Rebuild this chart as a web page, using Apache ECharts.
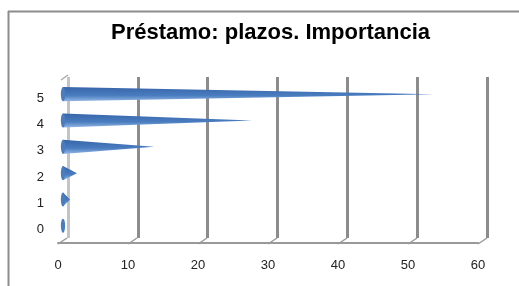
<!DOCTYPE html>
<html>
<head>
<meta charset="utf-8">
<script src="https://cdn.jsdelivr.net/npm/echarts@6/dist/echarts.min.js"></script>
</head>
<body style="margin:0;background:#fff">
<div id="main" style="width:519px;height:286px;"></div>
<script>
var categories = ['0', '1', '2', '3', '4', '5'];
var values = [0, 1, 2, 13, 27, 53];
var ticks = [0, 10, 20, 30, 40, 50, 60];

var chart = echarts.init(document.getElementById('main'));

// cono 3D: base en 0, punta en el valor
function renderCone(params, api) {
    var idx = api.value(1);
    var base = api.coord([0, idx]);
    var tip = api.coord([api.value(0), idx]);
    var h = api.size([0, 1])[1] * 0.27;
    var dx = 5, dy = -4;
    var bx = base[0] + dx, cy = base[1] + dy, tx = tip[0] + dx;
    var fill = new echarts.graphic.LinearGradient(0, 0, 0, 1, [
        {offset: 0, color: '#3865aa'},
        {offset: 0.6, color: '#4a7dc0'},
        {offset: 1, color: '#94b7e4'}
    ]);
    return {
        type: 'group',
        children: [{
            type: 'polygon',
            shape: {points: [[bx, cy - h], [Math.max(tx, bx + 1), cy], [bx, cy + h]]},
            style: {fill: fill}
        }, {
            type: 'circle',
            x: bx, y: cy, scaleX: 0.3,
            shape: {cx: 0, cy: 0, r: h},
            style: {fill: '#4a7cc0'}
        }]
    };
}

// trazos oblicuos entre el eje frontal y la pared del fondo
function renderTick(params, api) {
    var cs = params.coordSys;
    var x = api.coord([api.value(0), 0])[0];
    var y = cs.y + cs.height;
    return {
        type: 'line',
        shape: {x1: x, y1: y + 1, x2: x + 9, y2: y - 5},
        style: {stroke: '#999', lineWidth: 1.5}
    };
}

var option = {
    animation: false,
    title: {
        text: 'Préstamo: plazos. Importancia',
        left: 106,
        top: 17,
        textStyle: {fontFamily: 'Liberation Sans', fontWeight: 'bold', fontSize: 22, color: '#000'}
    },
    graphic: [
        {type: 'line', shape: {x1: 8, y1: 11.5, x2: 519, y2: 11.5}, style: {stroke: '#8c8c8c', lineWidth: 2}},
        {type: 'line', shape: {x1: 8.5, y1: 11, x2: 8.5, y2: 286}, style: {stroke: '#8c8c8c', lineWidth: 2}},
        {type: 'line', shape: {x1: 61, y1: 80, x2: 68, y2: 75}, style: {stroke: '#aaa', lineWidth: 1.5}}
    ],
    grid: [
        {left: 58, right: 41, top: 85, bottom: 43},
        {left: 68, right: 32, top: 77, bottom: 48}
    ],
    xAxis: [{
        type: 'value', gridIndex: 0, min: 0, max: 60, interval: 10,
        axisLine: {show: true, lineStyle: {color: '#999', width: 2}},
        axisTick: {show: false},
        splitLine: {show: false},
        axisLabel: {margin: 16, fontFamily: 'Liberation Sans', fontSize: 13, color: '#222'}
    }, {
        type: 'value', gridIndex: 1, min: 0, max: 60, interval: 10,
        axisLine: {show: false},
        axisTick: {show: false},
        axisLabel: {show: false},
        splitLine: {show: true, lineStyle: {color: ['#c4c4c4', '#8c8c8c', '#8c8c8c', '#8c8c8c', '#8c8c8c', '#8c8c8c', '#8c8c8c'], width: 3}}
    }],
    yAxis: [{
        type: 'category', gridIndex: 0, data: categories,
        axisLine: {show: false},
        axisTick: {show: false},
        axisLabel: {margin: 14, fontFamily: 'Liberation Sans', fontSize: 13, color: '#222'}
    }, {
        type: 'value', gridIndex: 1, show: false
    }],
    series: [{
        type: 'custom',
        xAxisIndex: 0, yAxisIndex: 0,
        renderItem: renderTick,
        data: ticks.map(function (t) { return [t, 0]; }),
        z: 1
    }, {
        type: 'custom',
        name: 'Importancia',
        xAxisIndex: 0, yAxisIndex: 0,
        renderItem: renderCone,
        data: values.map(function (v, i) { return [v, i]; }),
        z: 5
    }]
};
chart.setOption(option);
</script>
</body>
</html>
